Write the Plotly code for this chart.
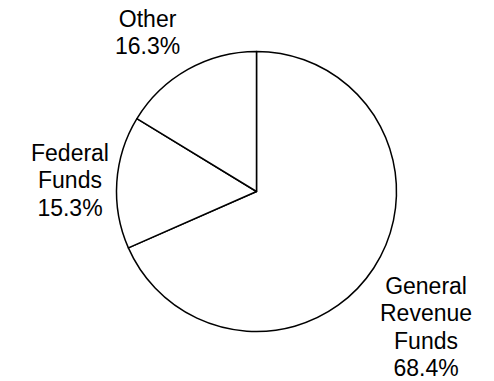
import plotly.graph_objects as go

labels = ["General<br>Revenue<br>Funds", "Federal<br>Funds", "Other"]
values = [68.4, 15.3, 16.3]
label_pos_x = [426, 70, 147]
label_pos_y = [327, 180, 32]

W, H = 494, 381

fig = go.Figure(go.Pie(
    labels=labels,
    values=values,
    sort=False,
    direction="clockwise",
    rotation=0,
    marker=dict(colors=["white"] * 3, line=dict(color="black", width=1.5)),
    textinfo="none",
    hoverinfo="label+percent",
    showlegend=False,
    domain=dict(x=[(256.5 - 140) / W, (256.5 + 140) / W],
                y=[(H - 191.5 - 140) / H, (H - 191.5 + 140) / H]),
))

for lab, val, px, py in zip(labels, values, label_pos_x, label_pos_y):
    lines = f"{lab}<br>{val:.1f}%".split("<br>")
    txt = "<br>".join(f"<span style='font-size:23px'>{ln}</span>" for ln in lines)
    fig.add_annotation(
        text=txt,
        x=px / W, y=1 - py / H, xref="paper", yref="paper",
        xanchor="center", yanchor="middle", showarrow=False,
        font=dict(family="Liberation Sans, Arial, sans-serif", size=21, color="black"),
    )

fig.update_layout(
    width=W, height=H,
    margin=dict(l=0, r=0, t=0, b=0),
    paper_bgcolor="white", plot_bgcolor="white",
)

fig.write_html("out.html")
